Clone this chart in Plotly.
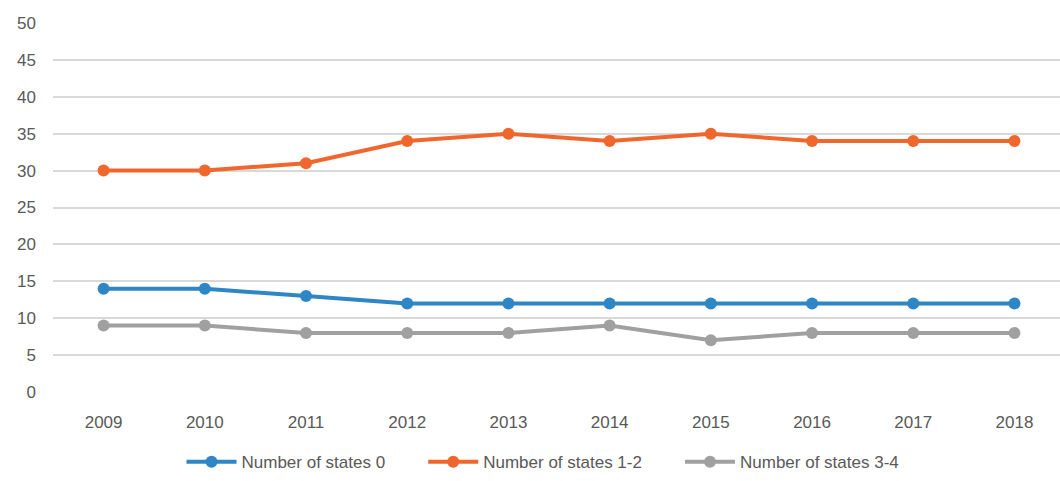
import plotly.graph_objects as go

years = ["2009", "2010", "2011", "2012", "2013", "2014", "2015", "2016", "2017", "2018"]
states_0 = [14, 14, 13, 12, 12, 12, 12, 12, 12, 12]
states_1_2 = [30, 30, 31, 34, 35, 34, 35, 34, 34, 34]
states_3_4 = [9, 9, 8, 8, 8, 9, 7, 8, 8, 8]
y_ticks = [0, 5, 10, 15, 20, 25, 30, 35, 40, 45, 50]

fig = go.Figure()
series = [
    ("Number of states 0", states_0, "#2E86C6"),
    ("Number of states 1-2", states_1_2, "#F0672E"),
    ("Number of states 3-4", states_3_4, "#A0A0A0"),
]
for name, vals, col in series:
    fig.add_trace(go.Scatter(
        x=list(range(len(years))), y=vals, name=name + "       ", mode="lines+markers",
        line=dict(color=col, width=4), marker=dict(color=col, size=12),
    ))

fig.update_layout(
    width=1060, height=481,
    margin=dict(l=53, r=0, t=23, b=89),
    plot_bgcolor="white", paper_bgcolor="white",
    font=dict(family="Liberation Sans", size=17, color="#595959"),
    legend=dict(orientation="h", x=0.503, xanchor="center", y=-0.19, yanchor="middle",
                font=dict(size=17, color="#595959"), itemwidth=50, tracegroupgap=0),
    showlegend=True,
)
fig.update_xaxes(
    range=[-0.5, 9.45], tickmode="array", tickvals=list(range(len(years))), ticktext=years,
    showgrid=False, zeroline=False, showline=False, ticks="", ticklabelstandoff=18,
)
fig.update_yaxes(
    range=[0, 50], tickvals=y_ticks, showgrid=True, gridcolor="#D9D9D9", gridwidth=2,
    zeroline=False, showline=False, ticks="", ticklabelstandoff=16,
)
fig.write_html("out.html")
